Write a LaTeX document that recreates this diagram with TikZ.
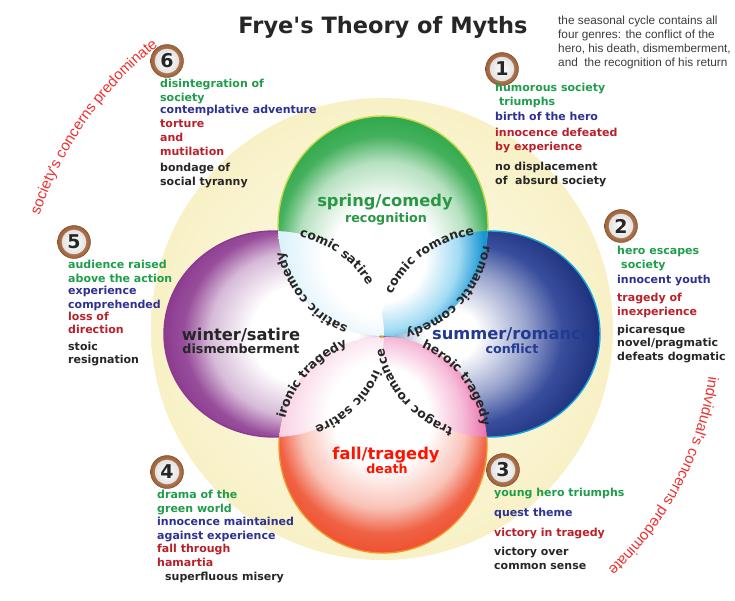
\documentclass[tikz,border=0pt]{standalone}
\usepackage{fontspec}
\setmainfont{DejaVu Sans}[Ligatures=TeXOff]
\newfontfamily\notefont{Liberation Sans}[Ligatures=TeXOff]
\usetikzlibrary{decorations.text,positioning}
\definecolor{leafgreen}{HTML}{1F9D4B}
\definecolor{navy}{HTML}{2E3192}
\definecolor{brick}{HTML}{B9202A}
\definecolor{coal}{HTML}{262626}
\definecolor{springgreen}{HTML}{2FA84B}
\definecolor{springedge}{HTML}{C8D94C}
\definecolor{summerblue}{HTML}{233A92}
\definecolor{summeredge}{HTML}{17A6E1}
\definecolor{winterpurple}{HTML}{8C3A90}
\definecolor{fallred}{HTML}{EE5130}
\definecolor{falledge}{HTML}{F6912A}
\definecolor{lenspink}{HTML}{E8589E}
\definecolor{cream}{HTML}{F8F1C6}
\definecolor{concern}{HTML}{EE3030}
\definecolor{badgebrown}{HTML}{9E6038}
\definecolor{badgetan}{HTML}{D9B08C}
\pgfdeclareradialshading{creamfill}{\pgfpoint{0bp}{0bp}}{color(0bp)=(white); color(10bp)=(cream!55); color(25bp)=(cream); color(50bp)=(cream)}
\pgfdeclareradialshading{springfill}{\pgfpoint{0bp}{-9bp}}{color(0bp)=(white); color(12bp)=(white); color(20bp)=(springgreen!35); color(25bp)=(springgreen!90); color(29bp)=(springgreen); color(50bp)=(springgreen)}
\pgfdeclareradialshading{summerfill}{\pgfpoint{0bp}{-10bp}}{color(0bp)=(white); color(6bp)=(white); color(15bp)=(summerblue!45); color(22bp)=(summerblue!90); color(29bp)=(summerblue!85!black); color(50bp)=(summerblue!85!black)}
\pgfdeclareradialshading{winterfill}{\pgfpoint{0bp}{-9bp}}{color(0bp)=(white); color(12bp)=(white); color(20bp)=(winterpurple!35); color(25bp)=(winterpurple!90); color(29bp)=(winterpurple); color(50bp)=(winterpurple)}
\pgfdeclareradialshading{fallfill}{\pgfpoint{0bp}{-9bp}}{color(0bp)=(white); color(12bp)=(white); color(20bp)=(fallred!35); color(25bp)=(fallred!90); color(29bp)=(fallred); color(50bp)=(fallred)}
\pgfdeclareradialshading{cyanlens}{\pgfpoint{0bp}{-9bp}}{color(0bp)=(white); color(10bp)=(white); color(18bp)=(summeredge!40); color(24bp)=(summeredge!85!summerblue); color(50bp)=(summeredge!85!summerblue)}
\pgfdeclareradialshading{palelens}{\pgfpoint{0bp}{-9bp}}{color(0bp)=(white); color(14bp)=(white); color(25bp)=(summeredge!16); color(50bp)=(summeredge!16)}
\pgfdeclareradialshading{blushlens}{\pgfpoint{0bp}{-9bp}}{color(0bp)=(white); color(13bp)=(white); color(25bp)=(lenspink!28); color(50bp)=(lenspink!28)}
\pgfdeclareradialshading{roselens}{\pgfpoint{0bp}{-9bp}}{color(0bp)=(white); color(11bp)=(white); color(19bp)=(lenspink!40); color(25bp)=(lenspink!85); color(50bp)=(lenspink!85)}
\tikzset{
  season/.style={line width=1.4pt},
  springsize/.style={x radius=105,y radius=110},
  summersize/.style={x radius=110,y radius=103},
  fallsize/.style={x radius=104,y radius=108},
  wintersize/.style={x radius=110,y radius=103},
  badge/.style={circle,minimum size=33pt,inner sep=0pt,draw=badgebrown!75!black,line width=0.4pt,
                inner color=badgetan,outer color=badgebrown,
                path picture={\shade[inner color=white,outer color=black!15] (path picture bounding box.center) circle[radius=12.3pt];},
                font=\fontsize{19}{19}\selectfont\bfseries,text=coal},
  entry/.style={anchor=base west,align=left,inner sep=0pt,font=\fontsize{11}{14}\selectfont\bfseries},
  greenline/.style={entry,text=leafgreen},
  blueline/.style={entry,text=navy},
  redline/.style={entry,text=brick},
  darkline/.style={entry,text=coal},
  seasonname/.style={anchor=base,inner sep=0pt,font=\fontsize{16.3}{16}\selectfont\bfseries},
  phasename/.style={anchor=base,inner sep=0pt,font=\fontsize{12.7}{13}\selectfont\bfseries},
  lensword/.style={decorate,decoration={text along path,text align=center,text color=coal,
                   text={|\fontsize{12.5}{12.5}\selectfont\bfseries|#1}}},
  sideword/.style={decorate,decoration={text along path,text align=center,text color=concern,
                   text={|\notefont\fontsize{15}{15}\selectfont|#1}}}
}

\begin{document}
\begin{tikzpicture}[x=1pt,y=1pt]
  \useasboundingbox (0,0) rectangle (735,-600);
  \fill[white] (0,0) rectangle (735,-600);
  \coordinate (cycle) at (382,-329);
  \coordinate (spring) at (383,-226);
  \coordinate (summer) at (490,-334);
  \coordinate (fall) at (383,-445);
  \coordinate (winter) at (274,-334);

  % the four seasons
  \shade[shading=creamfill] (cycle) circle[radius=231];
  \shade[shading=winterfill,shading angle=90] (winter) circle[wintersize];
  \shade[shading=summerfill,shading angle=-90] (summer) circle[summersize];
  \shade[shading=springfill] (spring) circle[springsize];
  \shade[shading=fallfill,shading angle=180] (fall) circle[fallsize];
  \begin{scope}
    \clip (summer) circle[summersize];
    \shade[shading=cyanlens] (spring) circle[springsize];
    \shade[shading=roselens,shading angle=180] (fall) circle[fallsize];
  \end{scope}
  \begin{scope}
    \clip (winter) circle[wintersize];
    \shade[shading=palelens] (spring) circle[springsize];
    \shade[shading=blushlens,shading angle=180] (fall) circle[fallsize];
  \end{scope}
  \begin{scope}[even odd rule]
    \clip (-5,5) rectangle (740,-605) (winter) circle[wintersize] (summer) circle[summersize];
    \draw[springedge,season] (spring) circle[springsize];
  \end{scope}
  \begin{scope}[even odd rule]
    \clip (-5,5) rectangle (740,-605) (spring) circle[springsize] (fall) circle[fallsize];
    \draw[summeredge,season] (summer) circle[summersize];
    \draw[winterpurple,season] (winter) circle[wintersize];
  \end{scope}
  \begin{scope}[even odd rule]
    \clip (-5,5) rectangle (740,-605) (winter) circle[wintersize] (summer) circle[summersize];
    \draw[falledge,season] (fall) circle[fallsize];
  \end{scope}

  % genres on the overlaps
  \path[lensword={comic satire},shift={(winter)}] (85:107 and 100) arc[start angle=85,end angle=20,x radius=107,y radius=100];
  \path[lensword={ironic satire},shift={(winter)}] (-10:107 and 100) arc[start angle=-10,end angle=-78,x radius=107,y radius=100];
  \path[lensword={satiric comedy},shift={(spring)}] (257:102 and 107) arc[start angle=257,end angle=187,x radius=102,y radius=107];
  \path[lensword={romantic comedy},shift={(spring)}] (-7:102 and 107) arc[start angle=-7,end angle=-81,x radius=102,y radius=107];
  \path[lensword={comic romance},shift={(summer)}] (160:107 and 100) arc[start angle=160,end angle=95,x radius=107,y radius=100];
  \path[lensword={tragoc romance},shift={(summer)}] (255:107 and 100) arc[start angle=255,end angle=183,x radius=107,y radius=100];
  \path[lensword={heroic tragedy},shift={(fall)}] (72:101 and 105) arc[start angle=72,end angle=6,x radius=101,y radius=105];
  \path[lensword={ironic tragedy},shift={(fall)}] (172:101 and 105) arc[start angle=172,end angle=104,x radius=101,y radius=105];

  \node[seasonname,text=springgreen!90!black] (springname) at (385,-206) {spring/comedy};
  \node[phasename,text=springgreen!90!black] (springphase) at (386,-222) {recognition};
  \node[seasonname,text=summerblue] (summername) at (512,-339) {summer/romance};
  \node[phasename,text=summerblue] (summerphase) at (512,-353) {conflict};
  \node[seasonname,text=red!85!orange] (fallname) at (386,-459) {fall/tragedy};
  \node[phasename,text=red!85!orange] (fallphase) at (387,-473) {death};
  \node[seasonname,text=coal] (wintername) at (241,-340) {winter/satire};
  \node[phasename,text=coal] (winterphase) at (241,-353) {dismemberment};

  \path[sideword={society's concerns predominate},shift={(cycle)}] (165:361) arc[start angle=165,end angle=125,radius=361];
  \path[sideword={indvidual's concerns predominate},shift={(cycle)}] (-3:330) arc[start angle=-3,end angle=-52,radius=330];

  \node[font=\fontsize{22.5}{24}\selectfont\bfseries,text=coal,anchor=base] (title) at (383,-33) {Frye's Theory of Myths};
  \node[anchor=base west,align=left,inner sep=0pt,text=coal!90,font=\notefont\fontsize{11.8}{13.7}\selectfont] (note) at (558,-66)
    {the seasonal cycle contains all\\four genres: the conflict of the\\hero, his death, dismemberment,\\and\ \ the recognition of his return};

  % 1
  \node[badge] (one) at (502,-69) {1};
  \node[greenline] (oneg) at (495,-105) {humorous society\\\hspace*{4pt}triumphs};
  \node[blueline] (oneb) at (495,-120) {birth of the hero};
  \node[redline] (oner) at (495,-150.7) {innocence defeated\\by experience};
  \node[darkline] (onek) at (495,-184) {no displacement\\of\ \ absurd society};
  % 2
  \node[badge] (two) at (621,-226) {2};
  \node[greenline] (twog) at (617,-268) {hero escapes\\\hspace*{4pt}society};
  \node[blueline] (twob) at (617,-283) {innocent youth};
  \node[redline] (twor) at (617,-315) {tragedy of\\inexperience};
  \node[darkline,font=\fontsize{11}{13.5}\selectfont\bfseries] (twok) at (617,-360) {picaresque\\novel/pragmatic\\defeats dogmatic};
  % 3
  \node[badge] (three) at (503,-470) {3};
  \node[greenline] (threeg) at (494,-496.7) {young hero triumphs};
  \node[blueline] (threeb) at (494,-516.7) {quest theme};
  \node[redline] (threer) at (494,-536) {victory in tragedy};
  \node[darkline] (threek) at (494,-569) {victory over\\common sense};
  % 4
  \node[badge] (four) at (167,-472) {4};
  \node[greenline] (fourg) at (157,-512.5) {drama of the\\green world};
  \node[blueline] (fourb) at (157,-539) {innocence maintained\\against experience};
  \node[redline] (fourr) at (157,-566) {fall through\\hamartia};
  \node[darkline] (fourk) at (165,-580) {superfluous misery};
  % 5
  \node[badge] (five) at (74,-242) {5};
  \node[greenline] (fiveg) at (68,-282.5) {audience raised\\above the action};
  \node[blueline] (fiveb) at (68,-308) {experience\\comprehended};
  \node[redline,font=\fontsize{11}{13}\selectfont\bfseries] (fiver) at (68,-333) {loss of\\direction};
  \node[darkline,font=\fontsize{11}{13}\selectfont\bfseries] (fivek) at (68,-363) {stoic\\resignation};
  % 6
  \node[badge] (six) at (167,-61) {6};
  \node[greenline,font=\fontsize{11}{14.7}\selectfont\bfseries] (sixg) at (160,-101.7) {disintegration of\\society};
  \node[blueline] (sixb) at (160,-113) {contemplative adventure};
  \node[redline] (sixr) at (160,-155) {torture\\and\\mutilation};
  \node[darkline] (sixk) at (160,-185.7) {bondage of\\social tyranny};
\end{tikzpicture}
\end{document}
